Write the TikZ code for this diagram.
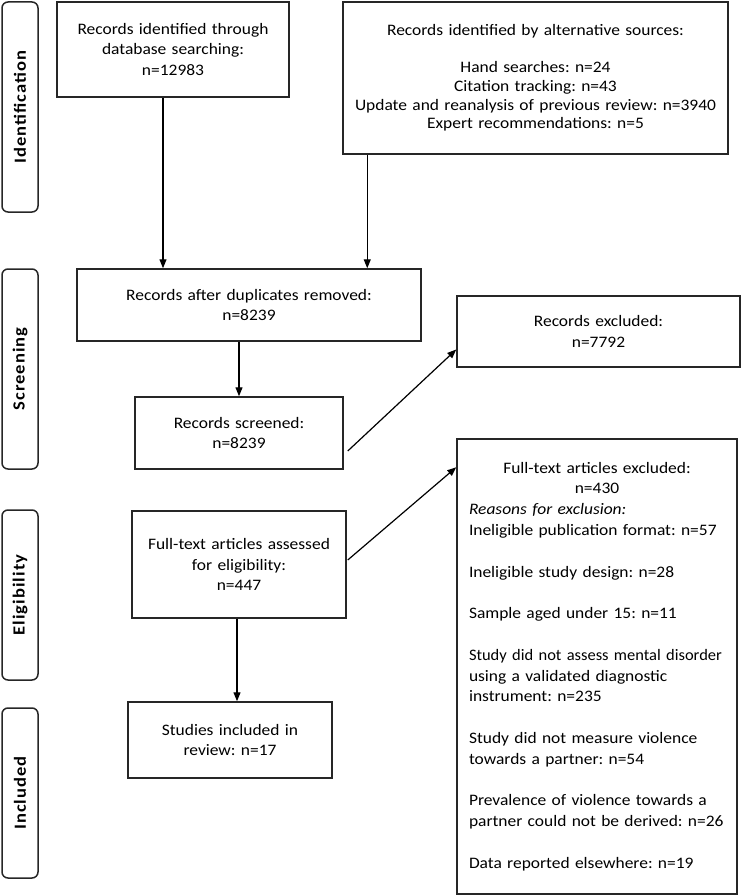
\documentclass[tikz,border=0pt]{standalone}
\usepackage{fontspec}
\setmainfont{Carlito}[FakeStretch=1.09]
\frenchspacing

% push the text of a box up a little
\newcommand{\raisetxt}[1]{\par\vspace*{#1}}

\usetikzlibrary{arrows.meta}

\begin{document}
\begin{tikzpicture}[
     x = 1pt, y = -1pt, % pixel units, y pointing down
     > = {Stealth[length=9pt, width=7pt, inset=0pt]}, % arrow head style
     line width = 1.2pt, % line style
     font = \fontsize{16}{20.3}\selectfont
 ]
 \useasboundingbox (0,0) rectangle (742,896);

 \tikzstyle{box} = [
     draw = black!85,
     line width = 1.5pt,
     align = center,
     inner sep = 4pt
 ]
 \tikzstyle{phase} = [
     draw = black!85,
     line width = 1.5pt,
     rounded corners = 6pt,
     rotate = 90,
     minimum height = 36pt,
     font = \fontsize{17}{20}\selectfont\bfseries\addfontfeature{LetterSpace=6}
 ]

 % phases
 \node[phase, minimum width=210pt] (ident) at (20,107) {Identification};
 \node[phase, minimum width=200pt] (screen) at (20,369) {Screening};
 \node[phase, minimum width=170pt] (elig) at (20,595) {Eligibility};
 \node[phase, minimum width=170pt] (incl) at (20,793) {Included};

 % boxes
 \node[box, minimum width=232pt, minimum height=95pt, text width=220pt] (dbsrch) at (173,49.5)
     {Records identified through\\database searching:\\n=12983\raisetxt{14pt}};
 \node[box, minimum width=385pt, minimum height=152pt, text width=375pt,
       font=\fontsize{16}{18.8}\selectfont] (altsrc) at (535.5,78)
     {Records identified by alternative sources:\\[18pt]Hand searches: n=24\\Citation tracking: n=43\\
      Update and reanalysis of previous review: n=3940\\Expert recommendations: n=5\raisetxt{19pt}};
 \node[box, minimum width=344pt, minimum height=72pt, text width=332pt] (dup) at (249,305)
     {Records after duplicates removed:\\n=8239\raisetxt{9pt}};
 \node[box, minimum width=208pt, minimum height=72pt, text width=196pt] (scrnd) at (239,433)
     {Records screened:\\n=8239\raisetxt{9pt}};
 \node[box, minimum width=283pt, minimum height=71pt, text width=271pt] (recexcl) at (598.5,331.5)
     {Records excluded:\\n=7792\raisetxt{9pt}};
 \node[box, minimum width=214pt, minimum height=107pt, text width=204pt] (assessed) at (239,564.5)
     {Full-text articles assessed\\for eligibility:\\n=447\raisetxt{25pt}};
 \node[box, minimum width=204pt, minimum height=76pt, text width=192pt] (studies) at (230,740)
     {Studies included in\\review: n=17\raisetxt{15pt}};
 \node[box, minimum width=280pt, minimum height=455pt, text width=278pt, inner xsep=0pt,
       align=left, font=\fontsize{16}{20.8}\selectfont] (ftexcl) at (597,666.5)
     {\hyphenpenalty 10000
      {\centering Full-text articles excluded:\\n=430\par}
      \leftskip 11pt
      \textit{Reasons for exclusion:}\\
      Ineligible publication format: n=57\\[20.8pt]
      Ineligible study design: n=28\\[20.8pt]
      Sample aged under 15: n=11\\[20.8pt]
      \mbox{\addfontfeature{FakeStretch=1.03}Study did not assess mental disorder}\\
      using a validated diagnostic\\instrument: n=235\\[20.8pt]
      Study did not measure violence\\towards a partner: n=54\\[20.8pt]
      Prevalence of violence towards a\\partner could not be derived: n=26\\[20.8pt]
      Data reported elsewhere: n=19\raisetxt{23pt}};

 % connectors
 \draw[->] ([xshift=-10pt]dbsrch.south) -- ([xshift=-10pt]dbsrch.south |- dup.north);
 \draw[->] ([xshift=25pt]altsrc.south west) -- ([xshift=25pt]altsrc.south west |- dup.north);
 \draw[->] (scrnd.north |- dup.south) -- (scrnd.north);
 \draw[->] ([shift={(4,18)}]scrnd.east) -- ([shift={(0,18)}]recexcl.west);
 \draw[->] ([shift={(1,-4.5)}]assessed.east) -- ([shift={(0,29)}]ftexcl.north west);
 \draw[->] ([xshift=-2pt]assessed.south) -- ([xshift=-2pt]assessed.south |- studies.north);
\end{tikzpicture}
\end{document}
